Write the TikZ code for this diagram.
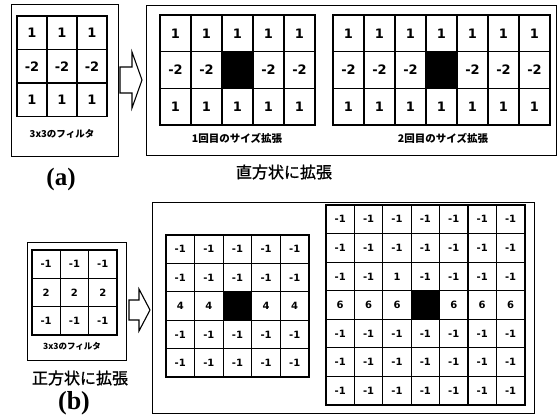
\documentclass[tikz,border=0pt]{standalone}
\usepackage{fontspec}
\setmainfont{Liberation Serif}
\newfontfamily\numfont{DejaVu Sans}
\newfontfamily\jpfont{Noto Sans CJK JP}
\newfontfamily\jpmed{Noto Sans CJK JP}[FakeBold=1.2]
\tikzset{
  cellbox/.style={draw=black, line width=1.1pt, inner sep=0pt, outer sep=0pt},
  gridborder/.style={draw=black, line width=1.7pt},
  framebox/.style={draw=black, line width=1pt},
  blockarrow/.style={draw=black, line width=1.1pt, fill=white, line join=miter},
  caption/.style={inner sep=0pt, font=\jpfont\bfseries},
}
% #1 name, #2 x0, #3 y0, #4 cell w, #5 cell h, #6 ncols, #7 nrows, #8 font, #9 values
\newcommand\mygrid[9]{%
  \foreach \v [count=\i from 0] in {#9} {%
    \pgfmathtruncatemacro\rr{div(\i,#6)}%
    \pgfmathtruncatemacro\cc{mod(\i,#6)}%
    \edef\tmpv{\v}\def\blkv{B}%
    \ifx\tmpv\blkv
      \node[cellbox, fill=black, minimum width=#4pt, minimum height=#5pt] (#1-\i) at ({#2+(\cc+0.5)*#4},{#3+(\rr+0.5)*#5}) {};
    \else
      \node[cellbox, minimum width=#4pt, minimum height=#5pt, font=#8] (#1-\i) at ({#2+(\cc+0.5)*#4},{#3+(\rr+0.5)*#5}) {\v};
    \fi
  }%
  \draw[gridborder] (#2,#3) rectangle ({#2+#6*#4},{#3+#7*#5});
}
\begin{document}
\begin{tikzpicture}[x=1pt, y=-1pt]
\useasboundingbox (0,0) rectangle (560,416);
\fill[white] (0,0) rectangle (560,416);
% ---------- (a) ----------
\draw[framebox] (11,4) rectangle (118,156);
\mygrid{ga}{17}{16}{30}{33.5}{3}{3}{\numfont\bfseries\fontsize{13}{13}\selectfont}{1,1,1,-2,-2,-2,1,1,1}
\node[caption, font=\jpfont\bfseries\fontsize{9.5}{10}\selectfont] (la) at (62,134) {3x3のフィルタ};
\node[inner sep=0pt, font=\bfseries\fontsize{25}{25}\selectfont] (tagA) at (61,179) {(a)};
\draw[blockarrow] (120,67) -- (132,67) -- (132,52) -- (142,80) -- (132,108) -- (132,93) -- (120,93) -- cycle;
\draw[framebox] (146,5) rectangle (556,155);
\mygrid{gb}{160}{15}{31}{36.7}{5}{3}{\numfont\bfseries\fontsize{13}{13}\selectfont}{1,1,1,1,1,-2,-2,B,-2,-2,1,1,1,1,1}
\node[caption, font=\jpfont\bfseries\fontsize{10.5}{11}\selectfont] (lb) at (237,138) {1回目のサイズ拡張};
\mygrid{gc}{333}{15}{31}{36.7}{7}{3}{\numfont\bfseries\fontsize{13}{13}\selectfont}{1,1,1,1,1,1,1,-2,-2,-2,B,-2,-2,-2,1,1,1,1,1,1,1}
\node[caption, font=\jpfont\bfseries\fontsize{10.5}{11}\selectfont] (lc) at (443,138) {2回目のサイズ拡張};
\node[inner sep=0pt, font=\jpmed\fontsize{16}{16}\selectfont] (capA) at (284,172) {直方状に拡張};
% ---------- (b) ----------
\draw[framebox] (27,242) rectangle (126,360);
\mygrid{gd}{32}{250}{28.3}{28.3}{3}{3}{\numfont\bfseries\fontsize{10}{10}\selectfont}{-1,-1,-1,2,2,2,-1,-1,-1}
\node[caption, font=\jpfont\bfseries\fontsize{8.5}{9}\selectfont] (ld) at (72,346) {3x3のフィルタ};
\node[inner sep=0pt, font=\jpmed\fontsize{16}{16}\selectfont] (capB) at (80,378) {正方状に拡張};
\node[inner sep=0pt, font=\bfseries\fontsize{26}{26}\selectfont] (tagB) at (74,403) {(b)};
\draw[blockarrow] (129,300) -- (139,300) -- (139,289) -- (150,310) -- (139,331) -- (139,320) -- (129,320) -- cycle;
\draw[framebox] (152,202) rectangle (534,413);
\mygrid{ge}{166}{235}{28.6}{28.4}{5}{5}{\numfont\bfseries\fontsize{10}{10}\selectfont}{-1,-1,-1,-1,-1,-1,-1,-1,-1,-1,4,4,B,4,4,-1,-1,-1,-1,-1,-1,-1,-1,-1,-1}
\mygrid{gf}{326}{205}{28.4}{28.57}{7}{7}{\numfont\bfseries\fontsize{10}{10}\selectfont}{-1,-1,-1,-1,-1,-1,-1,-1,-1,-1,-1,-1,-1,-1,-1,-1,1,-1,-1,-1,-1,6,6,6,B,6,6,6,-1,-1,-1,-1,-1,-1,-1,-1,-1,-1,-1,-1,-1,-1,-1,-1,-1,-1,-1,-1,-1}
\end{tikzpicture}
\end{document}
